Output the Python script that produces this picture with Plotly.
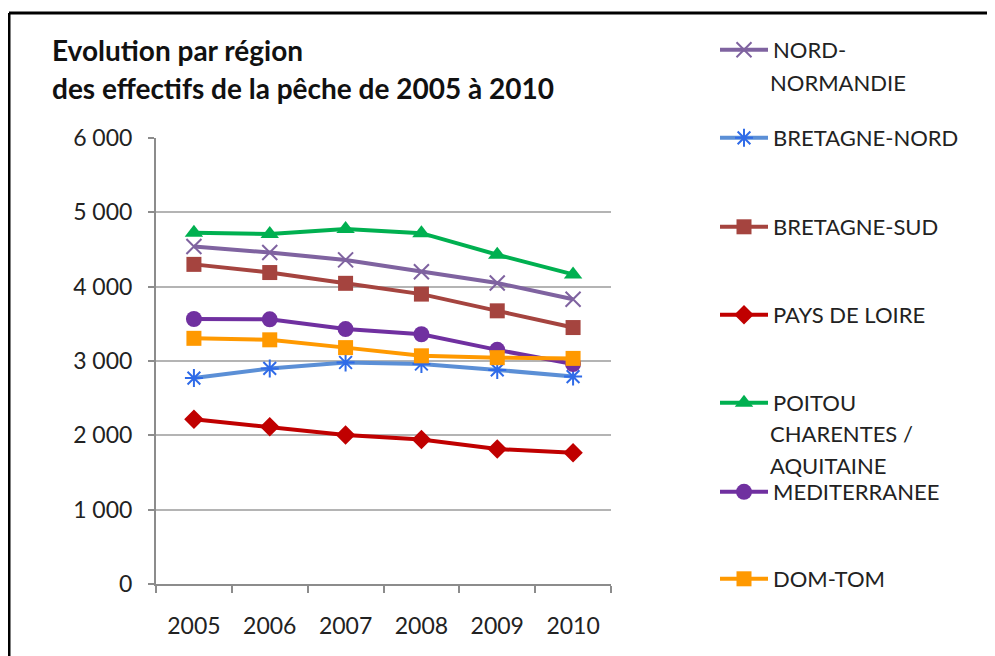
import plotly.graph_objects as go

years = ["2005", "2006", "2007", "2008", "2009", "2010"]

nord_normandie = [4540, 4460, 4360, 4200, 4050, 3830]
bretagne_nord = [2770, 2900, 2980, 2960, 2880, 2790]
bretagne_sud = [4300, 4190, 4045, 3900, 3675, 3450]
pays_de_loire = [2215, 2115, 2005, 1945, 1815, 1765]
poitou = [4725, 4710, 4775, 4720, 4430, 4165]
mediterranee = [3565, 3560, 3430, 3360, 3150, 2960]
dom_tom = [3305, 3285, 3180, 3070, 3045, 3035]

series_names = ["NORD-", "BRETAGNE-NORD", "BRETAGNE-SUD", "PAYS DE LOIRE",
                "POITOU", "MEDITERRANEE", "DOM-TOM"]
series_values = [nord_normandie, bretagne_nord, bretagne_sud, pays_de_loire,
                 poitou, mediterranee, dom_tom]
line_colors = ["#7F63A0", "#5B8FD6", "#A5443F", "#C00000", "#00B050", "#7030A0", "#FF9900"]
marker_colors = ["#7F63A0", "#2F6BE8", "#A5443F", "#C00000", "#00B050", "#7030A0", "#FF9900"]
symbols = ["x-thin-open", "asterisk-open", "square", "diamond", "triangle-up", "circle", "square"]
marker_sizes = [15, 15, 15, 15, 16, 16, 15]
legend_y_px = [50, 138, 227, 315, 403, 492, 579]

# page body has an 8px margin: work in reference pixel coords and shift
OFF = 8
W, H = 995 - OFF, 656 - OFF
L, R, T, B = 156 - OFF, 611 - OFF, 138 - OFF, 584 - OFF


def px_x(x):
    return (x - OFF - L) / (R - L)


def px_y(y):
    return (B - (y - OFF)) / (B - T)


FONT = "Lato, 'Open Sans', sans-serif"
fig = go.Figure()
layout_legends = {}
for i, (name, vals) in enumerate(zip(series_names, series_values)):
    lg = "legend" if i == 0 else f"legend{i + 1}"
    sym = symbols[i]
    mk = dict(symbol=sym, size=marker_sizes[i], color=marker_colors[i])
    if sym.endswith("open"):
        mk["line"] = dict(color=marker_colors[i], width=2)
    else:
        mk["line"] = dict(width=0)
    fig.add_trace(go.Scatter(
        x=years, y=vals, name=name, mode="lines+markers",
        line=dict(color=line_colors[i], width=4),
        marker=mk, legend=lg,
    ))
    layout_legends[lg] = dict(
        x=px_x(715), y=px_y(legend_y_px[i]), xanchor="left", yanchor="middle",
        font=dict(family=FONT, size=22, color="#222222"),
        bgcolor="rgba(0,0,0,0)", itemwidth=48, tracegroupgap=0,
    )

fig.update_layout(**layout_legends)

# continuation lines of wrapped legend labels
for txt, xp, yp in [("NORMANDIE", 768, 82), ("CHARENTES /", 768, 434), ("AQUITAINE", 768, 465)]:
    fig.add_annotation(x=px_x(xp), y=px_y(yp), xref="paper", yref="paper",
                       text=txt, showarrow=False, xanchor="left", yanchor="middle",
                       font=dict(family=FONT, size=22, color="#222222"))

# title
for txt, yp in [("Evolution par région", 50), ("des effectifs de la pêche de 2005 à 2010", 88)]:
    fig.add_annotation(x=px_x(50), y=px_y(yp), xref="paper", yref="paper",
                       text=f"<b>{txt}</b>", showarrow=False, xanchor="left", yanchor="middle",
                       font=dict(family=FONT, size=28, color="#111111"))

# outer frame
fig.add_shape(type="line", xref="paper", yref="paper",
              x0=px_x(9), x1=px_x(1010), y0=px_y(13), y1=px_y(13),
              line=dict(color="black", width=3))
fig.add_shape(type="line", xref="paper", yref="paper",
              x0=px_x(9), x1=px_x(9), y0=px_y(13), y1=px_y(670),
              line=dict(color="black", width=3))

fig.update_layout(
    width=W, height=H,
    margin=dict(l=L, r=W - R, t=T, b=H - B),
    paper_bgcolor="white", plot_bgcolor="white",
    separators=", ",
    showlegend=True,
    font=dict(family=FONT, size=22, color="#222222"),
)
fig.update_xaxes(
    type="category", range=[-0.5, 5.5], tickson="boundaries",
    showline=True, linecolor="#8C8C8C", linewidth=2,
    ticks="outside", ticklen=7, tickcolor="#8C8C8C", tickwidth=2,
    showgrid=False, zeroline=False, ticklabelstandoff=20,
    tickfont=dict(family=FONT, size=23, color="#222222"),
)
fig.update_yaxes(
    range=[0, 6000], dtick=1000, tickformat=",d",
    showline=True, linecolor="#8C8C8C", linewidth=2,
    ticks="outside", ticklen=6, tickcolor="#8C8C8C", tickwidth=2,
    showgrid=True, gridcolor="#B4B4B4", gridwidth=2, zeroline=False,
    ticklabelstandoff=11,
    tickfont=dict(family=FONT, size=23, color="#222222"),
)

fig.write_html("out.html")
